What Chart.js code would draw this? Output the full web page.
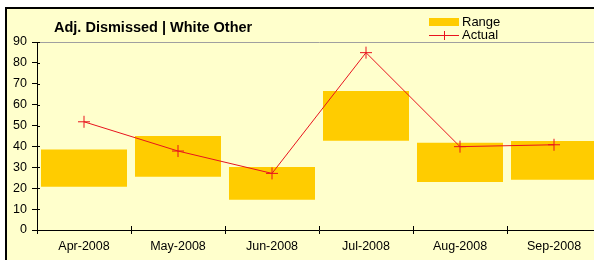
<!DOCTYPE html>
<html>
<head>
<meta charset="utf-8">
<script src="https://cdn.jsdelivr.net/npm/chart.js@4"></script>
<style>
  html, body { margin: 0; padding: 0; background: #fff; }
  #wrap { position: relative; width: 594px; height: 260px; overflow: hidden; }
  #wrap canvas { position: absolute; left: 0; top: 0; }
</style>
</head>
<body>
<div id="wrap"><canvas id="grafico" width="620" height="260"></canvas></div>
<script>
// chart values
var months = ['Apr-2008', 'May-2008', 'Jun-2008', 'Jul-2008', 'Aug-2008', 'Sep-2008'];
var rangeLow = [20.7, 25.5, 14.5, 42.7, 23.0, 24.0];
var rangeHigh = [38.5, 45.0, 30.2, 66.5, 41.8, 42.6];
var actual = [51.8, 37.8, 27.1, 84.9, 39.9, 40.8];
var yTicks = [0, 10, 20, 30, 40, 50, 60, 70, 80, 90];

var titleText = 'Adj. Dismissed | White Other';
var gold = '#FFCC00';
var red = '#E8141E';
var font = 'Arial, "Liberation Sans", sans-serif';

// floating bars need [low, high] pairs
var ranges = [];
for (var i = 0; i < months.length; i++) {
    ranges.push([rangeLow[i], rangeHigh[i]]);
}

// frame, title, legend and the ticks that cross the axes
var decor = {
    id: 'decor',
    beforeDraw: function(chart) {
        var ctx = chart.ctx;
        ctx.save();
        ctx.fillStyle = '#fff';
        ctx.fillRect(0, 0, chart.width, chart.height);
        ctx.fillStyle = '#000';
        ctx.fillRect(5, 7, chart.width, 2);
        ctx.fillRect(5, 7, 2, chart.height);
        ctx.fillStyle = '#FFFFCC';
        ctx.fillRect(7, 9, chart.width, chart.height);
        ctx.restore();
    },
    afterDraw: function(chart) {
        var ctx = chart.ctx;
        var area = chart.chartArea;
        var y = chart.scales.y;
        ctx.save();
        // title
        ctx.fillStyle = '#000';
        ctx.font = 'bold 14.5px ' + font;
        ctx.textBaseline = 'alphabetic';
        ctx.fillText(titleText, 54, 31.5);
        // legend
        ctx.font = '13px ' + font;
        ctx.textBaseline = 'middle';
        ctx.fillStyle = gold;
        ctx.fillRect(429, 18, 30, 8);
        ctx.fillStyle = '#000';
        ctx.fillText(chart.data.datasets[0].label, 462, 22);
        ctx.strokeStyle = red;
        ctx.lineWidth = 1;
        ctx.beginPath();
        ctx.moveTo(429, 35.5); ctx.lineTo(459, 35.5);
        ctx.moveTo(444.5, 31); ctx.lineTo(444.5, 40);
        ctx.stroke();
        ctx.fillText(chart.data.datasets[1].label, 462, 35);
        // inner halves of tick marks
        ctx.strokeStyle = '#000';
        ctx.beginPath();
        var n = months.length;
        var step = (area.right - area.left) / n;
        for (var k = 0; k <= n; k++) {
            var px = Math.round(area.left + k * step) + 0.5;
            ctx.moveTo(px, area.bottom);
            ctx.lineTo(px, area.bottom - 4);
        }
        for (var j = 0; j < yTicks.length; j++) {
            var py = Math.round(y.getPixelForValue(yTicks[j])) + 0.5;
            ctx.moveTo(area.left, py);
            ctx.lineTo(area.left + 3, py);
        }
        ctx.stroke();
        ctx.restore();
    }
};

Chart.defaults.font.family = font;
Chart.defaults.font.size = 12;
Chart.defaults.color = '#000';

var graph = new Chart(document.getElementById('grafico'), {
    type: 'bar',
    data: {
        labels: months,
        datasets: [{
            type: 'bar',
            label: 'Range',
            data: ranges,
            backgroundColor: gold,
            borderWidth: 0,
            barPercentage: 0.915,
            categoryPercentage: 1,
            order: 2
        }, {
            type: 'line',
            label: 'Actual',
            data: actual,
            borderColor: red,
            backgroundColor: red,
            borderWidth: 1,
            pointStyle: 'cross',
            pointRadius: 6,
            pointBorderWidth: 1,
            pointHoverRadius: 6,
            tension: 0,
            order: 1
        }]
    },
    options: {
        responsive: false,
        animation: false,
        events: [],
        layout: { padding: { top: 42, right: 19, left: 0, bottom: 0 } },
        plugins: {
            legend: { display: false },
            title: { display: false },
            tooltip: { enabled: false }
        },
        scales: {
            x: {
                offset: true,
                grid: {
                    offset: true,
                    drawOnChartArea: false,
                    tickLength: 4,
                    tickColor: '#000'
                },
                border: { color: '#000', width: 1 },
                ticks: { padding: 5, maxRotation: 0, autoSkip: false, font: { size: 12.5 } },
                afterFit: function(scale) { scale.height = 30; }
            },
            y: {
                min: 0,
                max: 90,
                afterBuildTicks: function(scale) {
                    scale.ticks = yTicks.map(function(v) { return { value: v }; });
                },
                grid: {
                    color: function(c) { return c.tick && c.tick.value === 90 ? '#A0A0A0' : 'rgba(0,0,0,0)'; },
                    tickColor: '#000',
                    tickLength: 5
                },
                border: { color: '#000', width: 1 },
                ticks: { padding: 5, font: { size: 12.5 } },
                afterFit: function(scale) { scale.width = 37; }
            }
        }
    },
    plugins: [decor]
});
</script>
</body>
</html>
